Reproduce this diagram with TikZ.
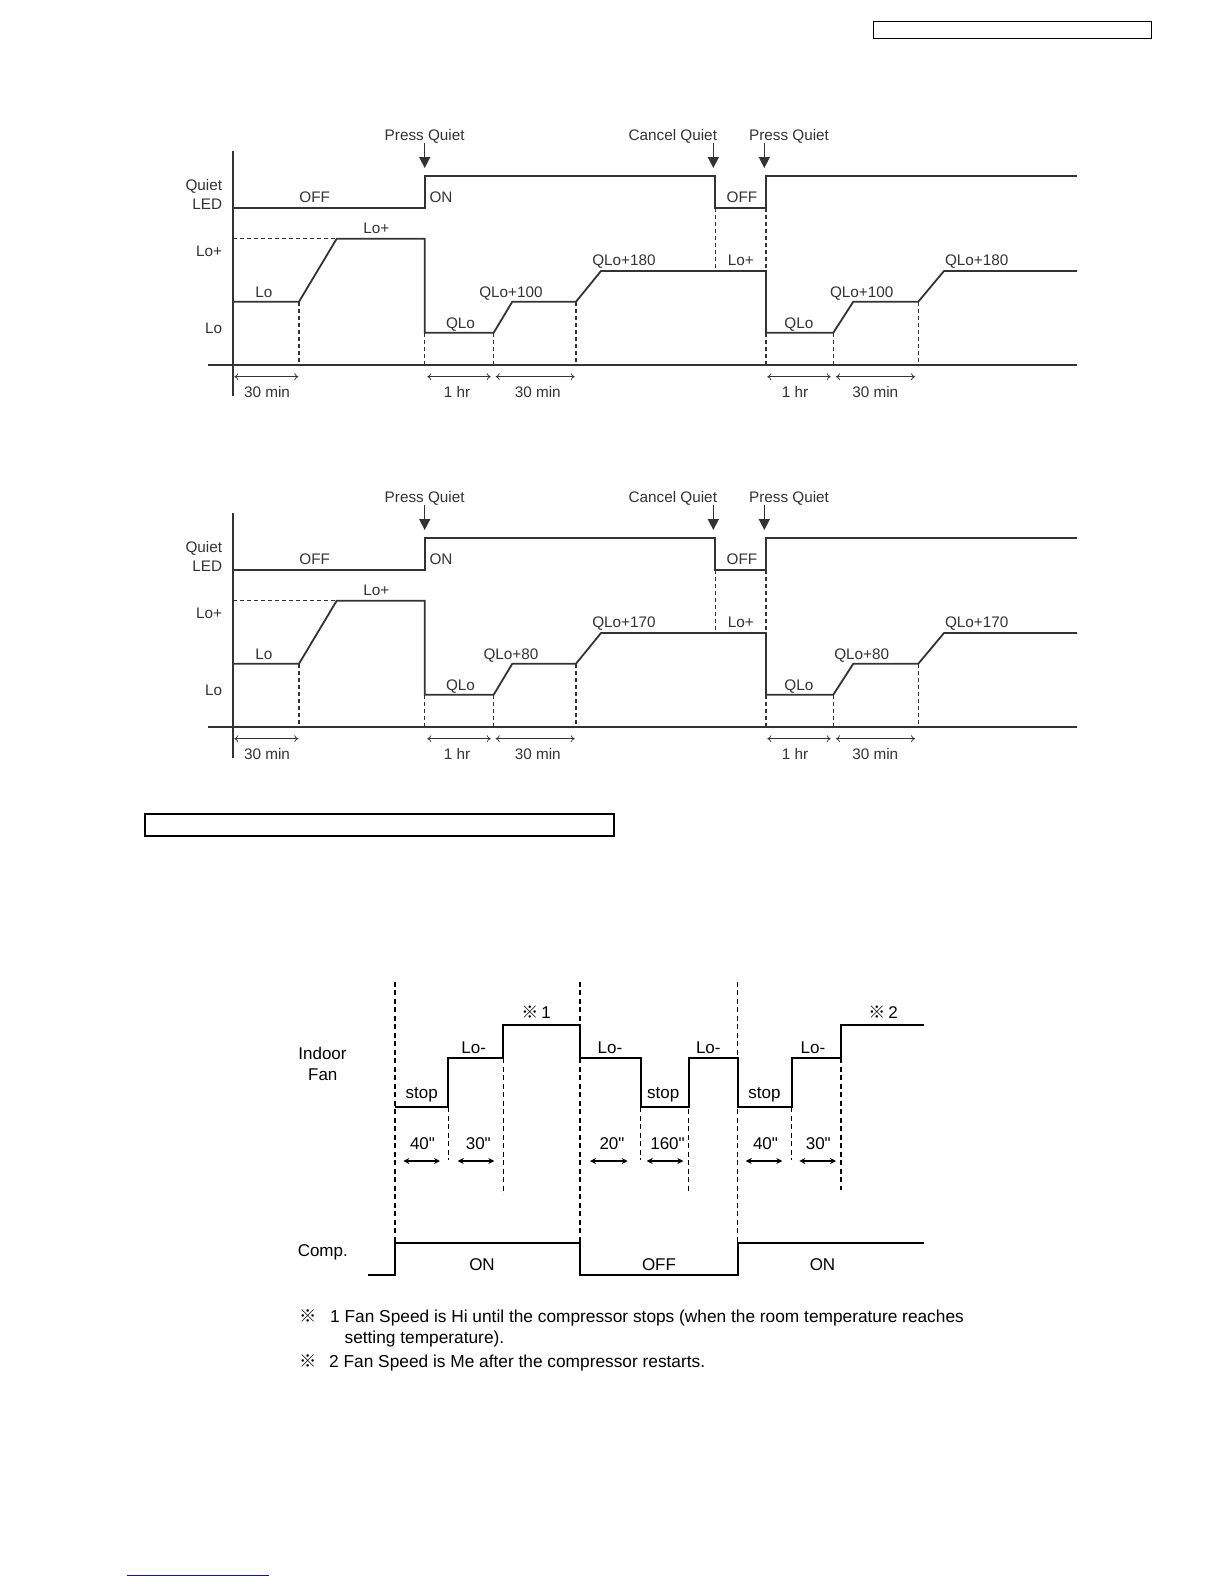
\documentclass[tikz,border=0pt]{standalone}
\usepackage{fontspec}
\setmainfont{Liberation Sans}
\newfontfamily\plainsans[Ligatures=TeXOff]{Liberation Sans}
\newfontfamily\cjk{Noto Sans CJK JP}
\usetikzlibrary{arrows.meta}
\definecolor{ink}{HTML}{333333}
\definecolor{navy}{RGB}{20,20,150}
\tikzset{
  sig/.style={line width=1.8pt, ink},
  dsh/.style={line width=1.3pt, ink, dash pattern=on 4pt off 3pt},
  dimar/.style={line width=0.7pt, ink, {To[length=4pt,width=7pt]}-{To[length=4pt,width=7pt]}},
  pressar/.style={line width=1.5pt, ink, -{Triangle[length=11pt,width=11pt]}},
  tl/.style={font=\fontsize{15.3}{17}\selectfont, text=ink, inner sep=0pt, anchor=mid, yshift=-3.5pt},
  bsig/.style={line width=2.2pt, black},
  bdsh/.style={line width=1.3pt, black, dash pattern=on 5pt off 3.5pt},
  bdim/.style={line width=1.1pt, black, {Stealth[length=6pt,width=6pt]}-{Stealth[length=6pt,width=6pt]}},
  bl/.style={font=\plainsans\fontsize{17}{19}\selectfont, text=black, inner sep=0pt, anchor=mid, yshift=-4.5pt},
  fn/.style={font=\fontsize{17.3}{19}\selectfont, text=black, inner sep=0pt, anchor=base west},
}
\newcommand\quietchart[4]{%
\begin{scope}[shift={(0,#1)}]
  % axes
  \draw[sig] (233.3,150.7) -- (233.3,396);
  \draw[sig] (207.7,365) -- (1077,365);
  % LED
  \draw[sig] (233.3,207.7) -- (424.7,207.7) -- (424.7,176) -- (715.3,176) -- (715.3,207.7) -- (766,207.7) -- (766,176) -- (1077,176);
  % fan
  \draw[sig] (233.3,301.7) -- (299,301.7) -- (336.7,238.7) -- (424.7,238.7) -- (424.7,332.7) -- (493.7,332.7) -- (512.3,301.7) -- (576,301.7) -- (601,271) -- (766,271) -- (766,332.7) -- (833.3,332.7) -- (853.3,301.7) -- (918.3,301.7) -- (944,271) -- (1077,271);
  % dashed
  \draw[dsh] (233.3,238.7) -- (336.7,238.7);
  \draw[dsh] (299,301.7) -- (299,365);
  \draw[dsh] (424.7,332.7) -- (424.7,365);
  \draw[dsh] (493.7,332.7) -- (493.7,365);
  \draw[dsh] (576,301.7) -- (576,365);
  \draw[dsh] (715.3,207.7) -- (715.3,271);
  \draw[dsh] (766,207.7) -- (766,271);
  \draw[dsh] (766,332.7) -- (766,365);
  \draw[dsh] (833.3,332.7) -- (833.3,365);
  \draw[dsh] (918.3,301.7) -- (918.3,365);
  % dimension arrows
  \draw[dimar] (234.3,376.7) -- (298.3,376.7);
  \draw[dimar] (427.3,376.7) -- (490.7,376.7);
  \draw[dimar] (495.7,376.7) -- (574.7,376.7);
  \draw[dimar] (767.3,376.7) -- (830.7,376.7);
  \draw[dimar] (836,376.7) -- (915,376.7);
  \node[tl] (#4d1) at (267,391.5) {30 min};
  \node[tl] (#4d2) at (457,391.5) {1 hr};
  \node[tl] (#4d3) at (537.8,391.5) {30 min};
  \node[tl] (#4d4) at (795,391.5) {1 hr};
  \node[tl] (#4d5) at (875.3,391.5) {30 min};
  % event labels and arrows
  \node[tl] (#4p1) at (424.7,134) {Press Quiet};
  \node[tl] (#4c1) at (672.8,134) {Cancel Quiet};
  \node[tl] (#4p2) at (789,134) {Press Quiet};
  \coordinate (#4p1t) at (424.7,168);
  \coordinate (#4c1t) at (713.3,168);
  \coordinate (#4p2t) at (764.3,168);
  \draw[pressar] (424.7,143) -- (#4p1t);
  \draw[pressar] (713.3,143) -- (#4c1t);
  \draw[pressar] (764.3,143) -- (#4p2t);
  % axis labels
  \node[tl, anchor=mid east] (#4q) at (222.3,184) {Quiet};
  \node[tl, anchor=mid east] (#4led) at (222.3,203.3) {LED};
  \node[tl, anchor=mid east] (#4lp) at (222.3,250) {Lo+};
  \node[tl, anchor=mid east] (#4lo) at (222.3,327.5) {Lo};
  % level labels
  \node[tl] (#4off1) at (314.7,196) {OFF};
  \node[tl, anchor=mid west] (#4on) at (429.3,196) {ON};
  \node[tl] (#4off2) at (742,196) {OFF};
  \node[tl] (#4l1) at (263.8,291.5) {Lo};
  \node[tl] (#4l2) at (376.3,227) {Lo+};
  \node[tl] (#4l3) at (460.5,322) {QLo};
  \node[tl] (#4l4) at (511,291.5) {#2};
  \node[tl] (#4l5) at (624,259.5) {#3};
  \node[tl] (#4l6) at (740.8,259.5) {Lo+};
  \node[tl] (#4l7) at (798.8,322) {QLo};
  \node[tl] (#4l8) at (861.7,291.5) {#2};
  \node[tl] (#4l9) at (976.7,259.5) {#3};
\end{scope}}
\begin{document}
\begin{tikzpicture}[x=1pt,y=-1pt]
\useasboundingbox (0,0) rectangle (1224,1584);
\fill[white] (0,0) rectangle (1224,1584);
% header boxes
\draw[line width=1.2pt] (873.3,21.7) rectangle (1151.7,38.3);
\draw[line width=2pt] (145,814.3) rectangle (614.3,835.7);
\draw[navy, line width=1pt] (126.7,1575.3) -- (269,1575.3);
% charts
\quietchart{0}{QLo+100}{QLo+180}{a}
\quietchart{362}{QLo+80}{QLo+170}{b}
% bottom chart
\draw[bdsh] (395,981.7) -- (395,1243);
\draw[bdsh] (580,981.7) -- (580,1243);
\draw[bdsh] (737.7,981.7) -- (737.7,1243);
\draw[bsig] (395,1107) -- (448.3,1107) -- (448.3,1058) -- (503.3,1058) -- (503.3,1025.3) -- (580,1025.3) -- (580,1058) -- (640.7,1058) -- (640.7,1107) -- (688.7,1107) -- (688.7,1058) -- (737.7,1058) -- (737.7,1107) -- (791.7,1107) -- (791.7,1058) -- (841,1058) -- (841,1025.3) -- (924,1025.3);
\draw[bdsh] (448.3,1107) -- (448.3,1160);
\draw[bdsh] (503.3,1058) -- (503.3,1194);
\draw[bdsh] (640.7,1107) -- (640.7,1160);
\draw[bdsh] (688.7,1058) -- (688.7,1193);
\draw[bdsh] (791.7,1107) -- (791.7,1160);
\draw[bdsh] (841,1058) -- (841,1190);
\draw[bdim] (403.3,1161) -- (440,1161);
\draw[bdim] (457.7,1161) -- (494.3,1161);
\draw[bdim] (590,1161) -- (627.7,1161);
\draw[bdim] (646.7,1161) -- (683.3,1161);
\draw[bdim] (745.7,1161) -- (782.3,1161);
\draw[bdim] (799.3,1161) -- (836,1161);
\draw[bsig] (368.3,1275) -- (395,1275) -- (395,1243.3) -- (580,1243.3) -- (580,1275) -- (737.7,1275) -- (737.7,1243.3) -- (924,1243.3);
\node[bl] (t40a) at (422.5,1142.5) {40"};
\node[bl] (t30a) at (478.3,1142.5) {30"};
\node[bl] (t20) at (612,1142.5) {20"};
\node[bl] (t160) at (667.5,1142.5) {160"};
\node[bl] (t40b) at (765.5,1142.5) {40"};
\node[bl] (t30b) at (818.3,1142.5) {30"};
\node[bl] (s1) at (421.7,1091) {stop};
\node[bl] (s2) at (663.3,1091) {stop};
\node[bl] (s3) at (764.5,1091) {stop};
\node[bl] (lm1) at (473.7,1046.5) {Lo-};
\node[bl] (lm2) at (610,1046.5) {Lo-};
\node[bl] (lm3) at (708.3,1046.5) {Lo-};
\node[bl] (lm4) at (813,1046.5) {Lo-};
\node[bl] (n1) at (536,1011) {{\cjk ※}\hspace{3pt}1};
\node[bl] (n2) at (883,1011) {{\cjk ※}\hspace{3pt}2};
\node[bl] (indoor) at (322.5,1052.5) {Indoor};
\node[bl] (fan) at (322.8,1073.5) {Fan};
\node[bl] (comp) at (322.8,1249) {Comp.};
\node[bl] (on1) at (482,1263.5) {ON};
\node[bl] (off1) at (659,1263.5) {OFF};
\node[bl] (on2) at (822.5,1263.5) {ON};
% footnotes
\node[fn] (f1m) at (299,1322) {\cjk ※};
\node[fn] (f1) at (330,1322) {1 Fan Speed is Hi until the compressor stops (when the room temperature reaches};
\node[fn] (f1b) at (344.4,1343) {setting temperature).};
\node[fn] (f2m) at (299,1367) {\cjk ※};
\node[fn] (f2) at (329,1367) {2 Fan Speed is Me after the compressor restarts.};
\end{tikzpicture}
\end{document}
